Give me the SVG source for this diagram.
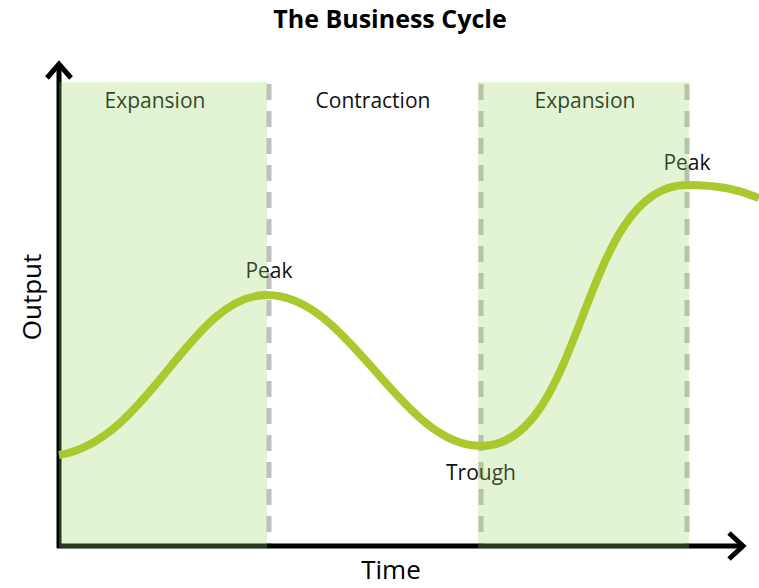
<svg xmlns="http://www.w3.org/2000/svg" width="759" height="588" viewBox="0 0 759 588">
<defs>
<style>
.lbl{font-family:"Open Sans","Liberation Sans",sans-serif;font-size:21px;fill:#111;text-anchor:middle}
.ax{font-family:"Open Sans","Liberation Sans",sans-serif;font-size:26px;fill:#000;text-anchor:middle}
.dash{stroke:#c0c0c0;stroke-width:5;stroke-dasharray:16 11;fill:none}
.axis{stroke:#000;stroke-width:5;fill:none}
.band{fill:rgb(150,215,100);fill-opacity:0.27}
</style>
</defs>
<rect width="759" height="588" fill="#fff"/>
<text x="390" y="28" font-family="'Open Sans','Liberation Sans',sans-serif" font-size="25" font-weight="bold" text-anchor="middle" fill="#000">The Business Cycle</text>
<g id="connectors">
<line class="dash" x1="269" y1="84" x2="269" y2="545"/>
<line class="dash" x1="481" y1="84" x2="481" y2="545"/>
<line class="dash" x1="687" y1="84" x2="687" y2="545"/>
<path class="axis" d="M59,548 V64"/>
<path class="axis" d="M47,78 L59,64 L71,78"/>
<path class="axis" d="M57,546 H742"/>
<path class="axis" d="M729,533 L743,546 L729,559"/>
</g>
<g id="labels">
<text class="lbl" x="155" y="108">Expansion</text>
<text class="lbl" x="373" y="108">Contraction</text>
<text class="lbl" x="585" y="108">Expansion</text>
<text class="lbl" x="269" y="278">Peak</text>
<text class="lbl" x="687" y="170">Peak</text>
<text class="lbl" x="481" y="480">Trough</text>
<text class="ax" x="391" y="579">Time</text>
<text class="ax" transform="translate(41,297) rotate(-90)">Output</text>
</g>
<g id="bands">
<rect id="expansion1" class="band" x="59" y="82" width="208" height="466"/>
<rect id="expansion2" class="band" x="478" y="82" width="211" height="466"/>
</g>
<g id="curve">
<path d="M59,455 C150,440 190,295 267,295 C350,295 400,446 481,446 C585,446 580,185 687,185 C720,185 740,190 759,198" fill="none" stroke="#a9c92f" stroke-width="8"/>
</g>
</svg>
